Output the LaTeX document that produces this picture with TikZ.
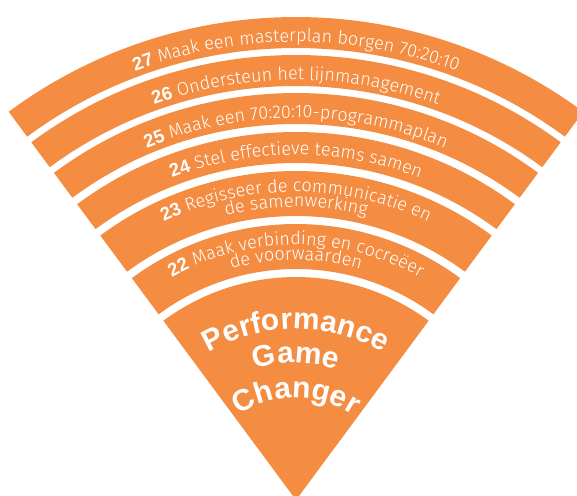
\documentclass[tikz,border=0pt]{standalone}
\usepackage{fontspec}
\setmainfont{Liberation Sans}
\newfontfamily\lightfamily{Fira Sans Light}
\usetikzlibrary{decorations.text}

\definecolor{naranja}{RGB}{244,140,66}
\newcommand\itemfont{\lightfamily\fontsize{10.3}{12}\selectfont\color{white}}
\newcommand\numfont{\fontsize{10.5}{12}\selectfont\bfseries\color{white}}
\newcommand\corefont{\fontsize{17}{20}\selectfont\bfseries\color{white}}

\begin{document}
\begin{tikzpicture}[scale=0.2]
  % Marco de la imagen
  \useasboundingbox (0,0) rectangle (57.7,49.5);

  % Estilos de bandas y textos curvos
  \tikzset{
    banda/.style={fill=naranja, draw=none},
    curva/.style={decorate, decoration={text along path, text align=center, text={#1}}}
  }

  \begin{scope}[shift={(29.6,-0.5)}]
    % Bandas del abanico
    \foreach \ro/\ri in {48.3/45.2, 44.5/41.4, 40.7/37.6, 36.8/33.7, 32.9/28.4, 27.6/23.1}
      \fill[banda] (126.5:\ro) arc[start angle=126.5, end angle=53.5, radius=\ro]
        -- (53.5:\ri) arc[start angle=53.5, end angle=126.5, radius=\ri] -- cycle;

    % Punta central
    \fill[banda] (0,0) -- (126.5:22.3) arc[start angle=126.5, end angle=53.5, radius=22.3] -- cycle;

    % Textos de las bandas
    \path[curva={|\numfont|27 |\itemfont|Maak een masterplan borgen 70:20:10}]
      (160:45.8) arc[start angle=160, end angle=20, radius=45.8];
    \path[curva={|\numfont|26 |\itemfont|Ondersteun het lijnmanagement}]
      (160:42.0) arc[start angle=160, end angle=20, radius=42.0];
    \path[curva={|\numfont|25 |\itemfont|Maak een 70:20:10-programmaplan}]
      (160:38.2) arc[start angle=160, end angle=20, radius=38.2];
    \path[curva={|\numfont|24 |\itemfont|Stel effectieve teams samen}]
      (160:34.5) arc[start angle=160, end angle=20, radius=34.5];
    \path[curva={|\numfont|23 |\itemfont|Regisseer de communicatie en}]
      (160:30.8) arc[start angle=160, end angle=20, radius=30.8];
    \path[curva={|\itemfont|de samenwerking}]
      (160:29.3) arc[start angle=160, end angle=20, radius=29.3];
    \path[curva={|\numfont|22 |\itemfont|Maak verbinding en cocreëer}]
      (160:25.5) arc[start angle=160, end angle=20, radius=25.5];
    \path[curva={|\itemfont|de voorwaarden}]
      (160:24.0) arc[start angle=160, end angle=20, radius=24.0];

    % Titulo central
    \path[curva={|\corefont|Performance}]
      (170:17.1) arc[start angle=170, end angle=10, radius=17.1];
    \path[curva={|\corefont|Game}]
      (170:13.7) arc[start angle=170, end angle=10, radius=13.7];
    \path[curva={|\corefont|Changer}]
      (170:10.2) arc[start angle=170, end angle=10, radius=10.2];
  \end{scope}
\end{tikzpicture}
\end{document}
